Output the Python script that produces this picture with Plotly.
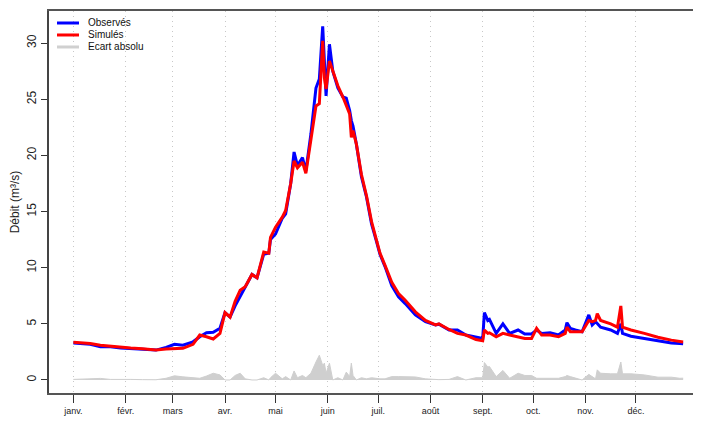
import pandas as pd
import plotly.graph_objects as go

# day of year (0 = 1 January)
days = [0, 5, 10, 16, 22, 28, 34, 41, 49, 55, 60, 65, 71, 75, 79, 83, 87, 90, 93, 96,
        99, 102, 106, 109, 113, 116, 117, 120, 124, 126, 129, 131, 133, 136, 138, 141,
        144, 146, 148, 149, 150, 152, 154, 157, 160, 162, 164, 165, 166, 168, 171, 174,
        177, 180, 182, 185, 189, 193, 197, 203, 209, 215, 217, 223, 228, 233, 239, 243,
        244, 246, 247, 251, 255, 259, 264, 268, 272, 275, 278, 283, 288, 292, 293, 295,
        298, 302, 306, 308, 310, 311, 313, 319, 323, 325, 326, 331, 339, 347, 355, 360, 362]

observes = [3.30, 3.22, 3.17, 2.96, 2.95, 2.85, 2.80, 2.75, 2.66, 2.90, 3.17, 3.10, 3.40,
            3.85, 4.20, 4.25, 4.60, 6.00, 5.60, 6.60, 7.40, 8.20, 9.40, 9.10, 11.2, 11.3,
            12.5, 13.0, 14.4, 14.8, 17.5, 20.3, 19.1, 19.8, 18.6, 21.9, 26.0, 26.8, 31.5,
            28.4, 25.3, 29.9, 27.5, 26.0, 25.2, 25.1, 24.0, 23.1, 22.6, 21.0, 18.1, 16.3,
            13.9, 12.3, 11.2, 10.1, 8.4, 7.4, 6.8, 5.8, 5.2, 4.9, 4.97, 4.45, 4.45, 4.0,
            3.8, 3.7, 6.0, 5.3, 5.4, 4.15, 5.0, 4.15, 4.45, 4.1, 4.1, 4.45, 4.15, 4.2,
            4.0, 4.45, 5.1, 4.6, 4.45, 4.3, 5.8, 4.9, 5.2, 5.0, 4.7, 4.45, 4.15, 5.0, 4.15,
            3.9, 3.7, 3.55, 3.3, 3.25, 3.22]

simules = [3.35, 3.30, 3.25, 3.10, 3.00, 2.92, 2.85, 2.78, 2.68, 2.75, 2.80, 2.82, 3.17,
           4.00, 3.85, 3.65, 4.15, 6.00, 5.60, 7.00, 8.00, 8.30, 9.40, 9.10, 11.4, 11.3,
           12.7, 13.6, 14.5, 15.1, 17.5, 19.5, 18.9, 19.4, 18.4, 21.3, 24.4, 24.6, 30.2,
           26.9, 25.9, 28.4, 27.5, 26.2, 25.2, 24.4, 23.7, 21.6, 22.2, 21.0, 18.3, 16.4,
           14.1, 12.4, 11.3, 10.2, 8.7, 7.7, 7.1, 6.07, 5.3, 4.9, 5.0, 4.5, 4.15, 4.0,
           3.6, 3.5, 4.45, 4.15, 4.2, 3.85, 4.15, 4.0, 3.85, 3.7, 3.7, 4.6, 4.0, 4.0,
           3.85, 4.15, 4.7, 4.3, 4.3, 4.3, 5.3, 5.2, 5.3, 5.9, 5.3, 5.0, 4.7, 6.6, 4.7,
           4.45, 4.15, 3.8, 3.55, 3.4, 3.38]

month_days = [0, 31, 59, 90, 120, 151, 181, 212, 243, 273, 304, 334]
month_labels = ["janv.", "févr.", "mars", "avr.", "mai", "juin", "juil.", "août",
                "sept.", "oct.", "nov.", "déc."]

legend_names = ["Observés", "Simulés", "Ecart absolu"]
legend_colors = ["#0000ff", "#ff0000", "#d0d0d0"]

origin = pd.Timestamp("2021-01-01")
dates = [origin + pd.Timedelta(days=d) for d in days]
ecart = [abs(o - s) for o, s in zip(observes, simules)]
month_dates = [origin + pd.Timedelta(days=d) for d in month_days]

fig = go.Figure()
fig.add_trace(go.Scatter(x=dates, y=ecart, mode="lines", name=legend_names[2],
                         fill="tozeroy", fillcolor="#cfcfcf",
                         line=dict(color="#cfcfcf", width=1)))
fig.add_trace(go.Scatter(x=dates, y=observes, mode="lines", name=legend_names[0],
                         line=dict(color=legend_colors[0], width=3)))
fig.add_trace(go.Scatter(x=dates, y=simules, mode="lines", name=legend_names[1],
                         line=dict(color=legend_colors[1], width=3)))

# hand-drawn legend (compact, as in the original)
leg_y = [0.9686, 0.9372, 0.9058]
for name, col, yy in zip(legend_names, legend_colors, leg_y):
    fig.add_shape(type="line", xref="paper", yref="paper", x0=0.0123, x1=0.046,
                  y0=yy, y1=yy, line=dict(color=col, width=3))
    fig.add_annotation(xref="paper", yref="paper", x=0.0567, y=yy, text=name,
                       showarrow=False, xanchor="left", yanchor="middle",
                       font=dict(size=10, color="#111111"))

xr0 = origin + pd.Timedelta(days=-14.5)
xr1 = origin + pd.Timedelta(days=372.6)

fig.update_layout(
    width=693, height=414,
    margin=dict(l=41, r=0, t=3, b=29),
    paper_bgcolor="white", plot_bgcolor="white",
    font=dict(family="Liberation Sans, Arial, sans-serif", color="#222222"),
    showlegend=False,
    xaxis=dict(type="date", range=[xr0, xr1], tickmode="array",
               tickvals=month_dates, ticktext=month_labels,
               ticks="outside", ticklen=8, tickcolor="#333333",
               tickfont=dict(size=9, color="#222222"),
               showline=True, linecolor="#555555", linewidth=1.5, mirror=True,
               showgrid=True, gridcolor="#c8c8c8", griddash="1px,4px", gridwidth=1,
               zeroline=False),
    yaxis=dict(range=[-1.16, 32.86], tickmode="array",
               tickvals=[0, 5, 10, 15, 20, 25, 30],
               ticks="outside", ticklen=6, tickcolor="#333333", tickangle=-90,
               tickfont=dict(size=12, color="#222222"),
               showline=True, linecolor="#444444", linewidth=1.5,
               showgrid=False, zeroline=False,
               title=dict(text="Débit (m³/s)", font=dict(size=12, color="#222222"),
                          standoff=4)),
)

fig.write_html("out.html")
